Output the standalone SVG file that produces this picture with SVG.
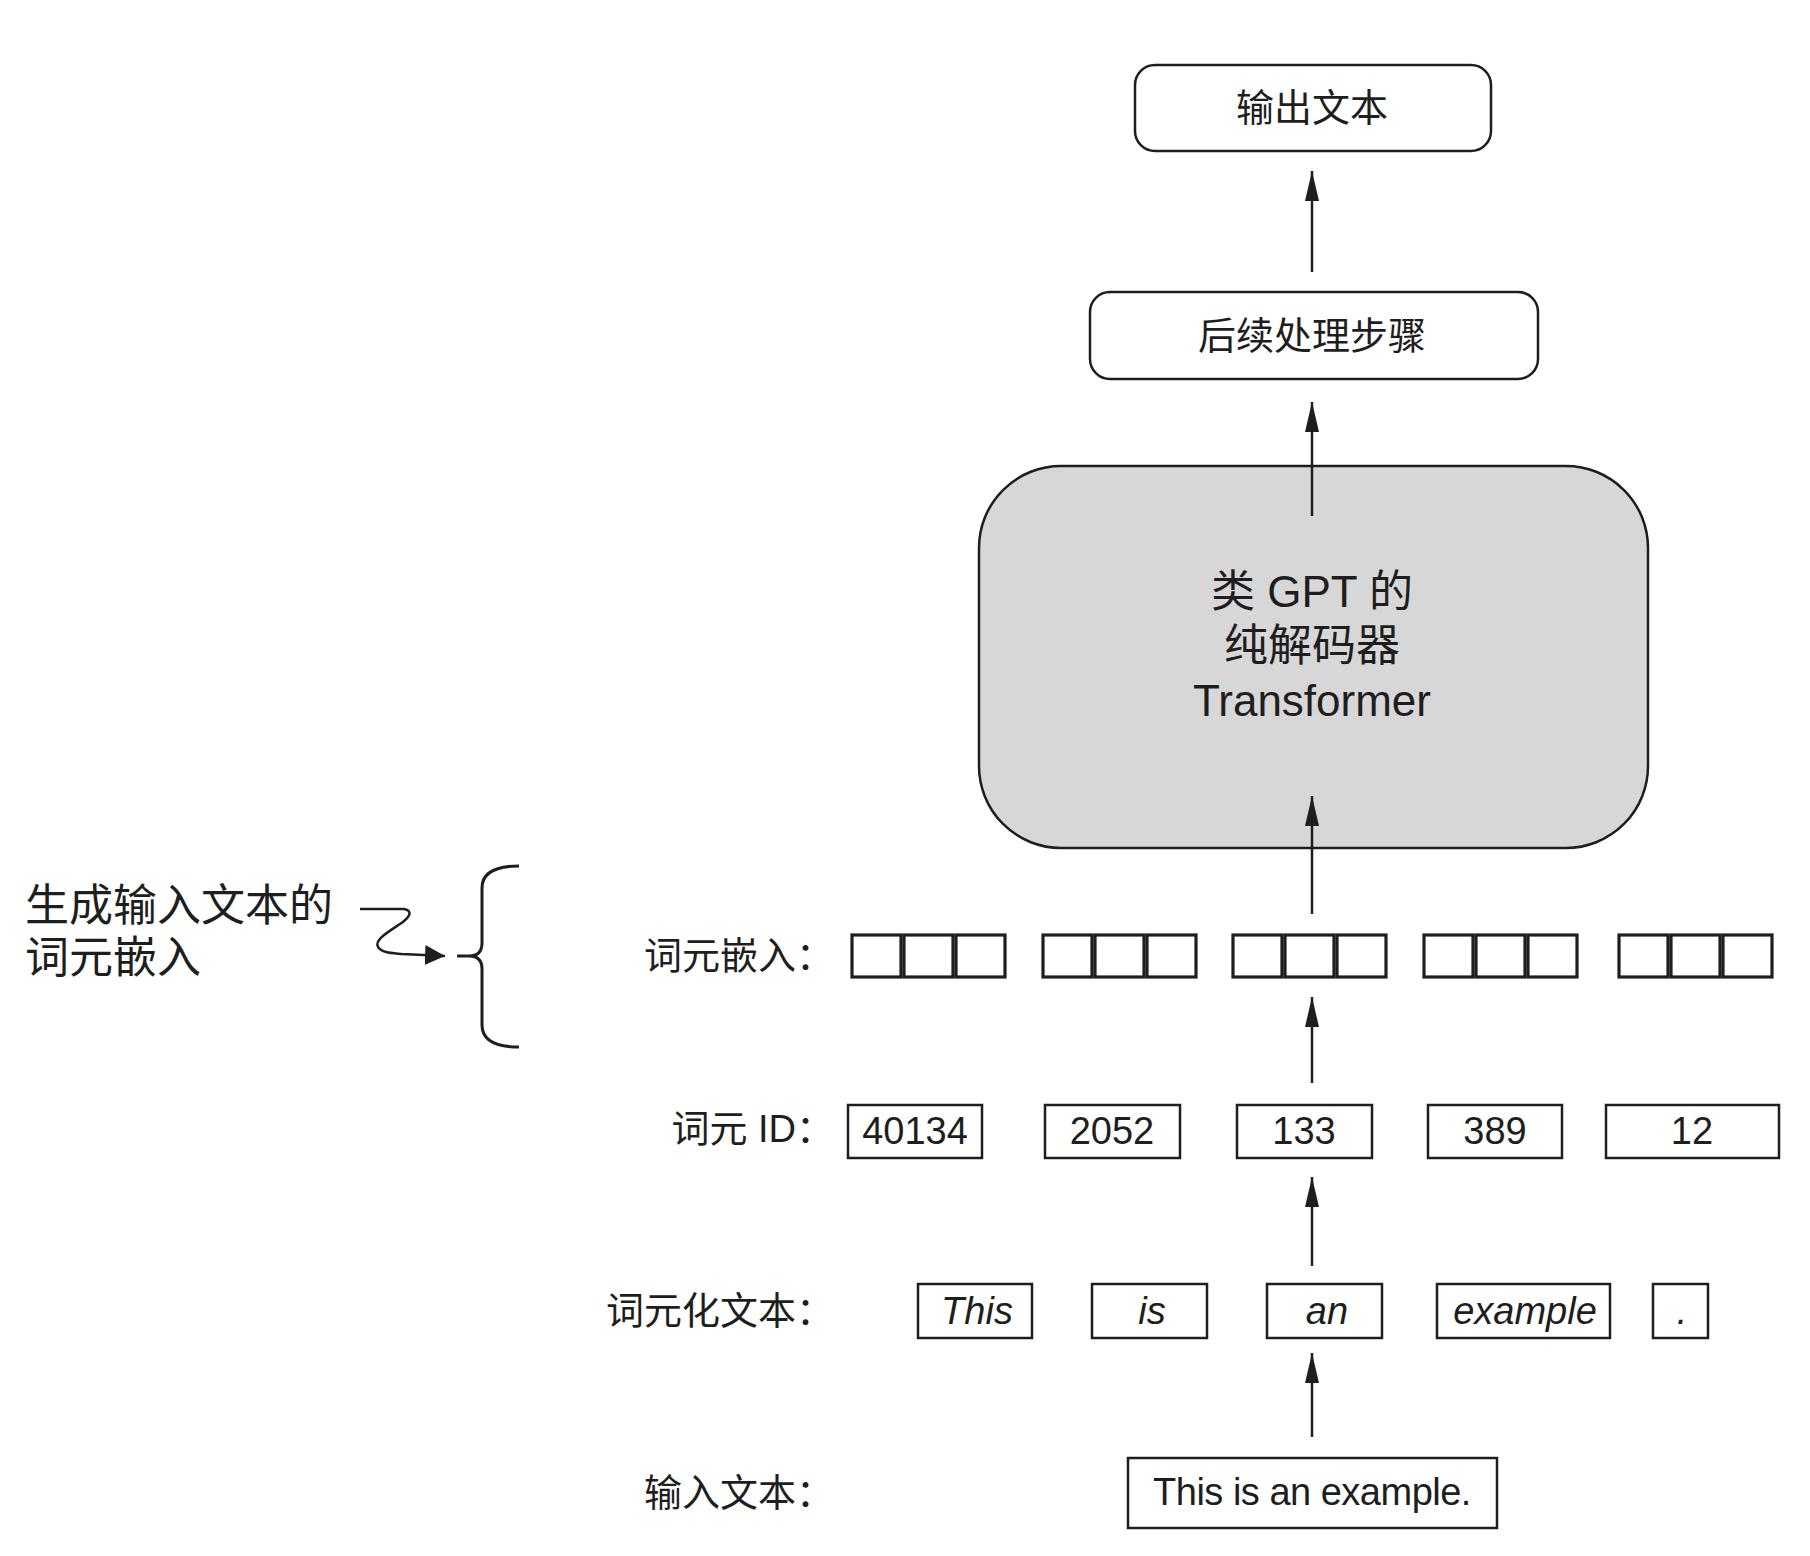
<svg xmlns="http://www.w3.org/2000/svg" width="1810" height="1556" viewBox="0 0 1810 1556">
<style>
text{font-family:"Liberation Sans","Noto Sans CJK SC",sans-serif;fill:#1e1e1e;}
.box{fill:#fff;stroke:#1e1e1e;stroke-width:2.5;}
.rbox{fill:#fff;stroke:#1e1e1e;stroke-width:2.5;}
.tf{fill:#d7d7d7;stroke:#1e1e1e;stroke-width:2.5;}
.sq{fill:#fff;stroke:#1e1e1e;stroke-width:3.2;}
.lbl{font-size:38px;text-anchor:end;}
.num{font-size:38px;text-anchor:middle;}
.tok{font-size:38px;text-anchor:middle;font-style:italic;}
.conn{stroke:#1e1e1e;stroke-width:2.5;fill:none;}
.brace{stroke:#1e1e1e;stroke-width:3;fill:none;}
</style>
<defs>
<marker id="ah" markerUnits="userSpaceOnUse" markerWidth="32" markerHeight="16" refX="30" refY="7" orient="auto">
<path d="M0,0 L30,7 L0,14 z" fill="#1e1e1e"/>
</marker>
<marker id="ah2" markerUnits="userSpaceOnUse" markerWidth="22" markerHeight="22" refX="20" refY="10" orient="auto">
<path d="M0,0 L20,10 L0,20 z" fill="#1e1e1e"/>
</marker>
</defs>
<rect width="1810" height="1556" fill="#fff"/>

<g id="output">
<rect class="rbox" x="1135" y="65" width="356" height="86" rx="20"/>
<text x="1312" y="121" font-size="38" text-anchor="middle">输出文本</text>
</g>

<g id="postproc">
<rect class="rbox" x="1090" y="292" width="448" height="87" rx="20"/>
<text x="1312" y="349" font-size="38" text-anchor="middle">后续处理步骤</text>
</g>

<g id="transformer">
<rect class="tf" x="979" y="466" width="669" height="382" rx="82"/>
<text x="1312" y="607" font-size="44" text-anchor="middle">类 GPT 的</text>
<text x="1312" y="661" font-size="44" text-anchor="middle">纯解码器</text>
<text x="1312" y="716" font-size="44" text-anchor="middle">Transformer</text>
</g>

<g id="embeddings">
<text class="lbl" x="834" y="969">词元嵌入：</text>
<rect class="sq" x="852" y="935" width="49" height="42"/><rect class="sq" x="904" y="935" width="49" height="42"/><rect class="sq" x="956" y="935" width="49" height="42"/>
<rect class="sq" x="1043" y="935" width="49" height="42"/><rect class="sq" x="1095" y="935" width="49" height="42"/><rect class="sq" x="1147" y="935" width="49" height="42"/>
<rect class="sq" x="1233" y="935" width="49" height="42"/><rect class="sq" x="1285" y="935" width="49" height="42"/><rect class="sq" x="1337" y="935" width="49" height="42"/>
<rect class="sq" x="1424" y="935" width="49" height="42"/><rect class="sq" x="1476" y="935" width="49" height="42"/><rect class="sq" x="1528" y="935" width="49" height="42"/>
<rect class="sq" x="1619" y="935" width="49" height="42"/><rect class="sq" x="1671" y="935" width="49" height="42"/><rect class="sq" x="1723" y="935" width="49" height="42"/>
</g>

<g id="tokenids">
<text class="lbl" x="834" y="1142">词元 ID：</text>
<rect class="box" x="848" y="1105" width="134" height="53"/><text class="num" x="915" y="1144">40134</text>
<rect class="box" x="1045" y="1105" width="135" height="53"/><text class="num" x="1112" y="1144">2052</text>
<rect class="box" x="1237" y="1105" width="135" height="53"/><text class="num" x="1304" y="1144">133</text>
<rect class="box" x="1428" y="1105" width="134" height="53"/><text class="num" x="1495" y="1144">389</text>
<rect class="box" x="1606" y="1105" width="173" height="53"/><text class="num" x="1692" y="1144">12</text>
</g>

<g id="tokenized">
<text class="lbl" x="834" y="1324">词元化文本：</text>
<rect class="box" x="918" y="1284" width="114" height="54"/><text class="tok" x="977" y="1324">This</text>
<rect class="box" x="1092" y="1284" width="115" height="54"/><text class="tok" x="1152" y="1324">is</text>
<rect class="box" x="1267" y="1284" width="115" height="54"/><text class="tok" x="1327" y="1324">an</text>
<rect class="box" x="1437" y="1284" width="173" height="54"/><text class="tok" x="1525" y="1324">example</text>
<rect class="box" x="1653" y="1284" width="55" height="54"/><text class="tok" x="1682" y="1324">.</text>
</g>

<g id="input">
<text class="lbl" x="834" y="1506">输入文本：</text>
<rect class="box" x="1128" y="1458" width="369" height="70"/>
<text x="1312" y="1505" font-size="38" text-anchor="middle" letter-spacing="-0.5">This is an example.</text>
</g>

<g id="annotation">
<text x="25" y="921" font-size="44">生成输入文本的</text>
<text x="25" y="973" font-size="44">词元嵌入</text>
<path class="brace" d="M519,866 Q482,866 482,888 L482,943 Q482,956 469,956 L457,956 L469,956 Q482,956 482,969 L482,1025 Q482,1047 519,1047"/>
</g>

<g id="connectors">
<line class="conn" x1="1312" y1="272" x2="1312" y2="171" marker-end="url(#ah)"/>
<line class="conn" x1="1312" y1="516" x2="1312" y2="402" marker-end="url(#ah)"/>
<line class="conn" x1="1312" y1="914" x2="1312" y2="796" marker-end="url(#ah)"/>
<line class="conn" x1="1312" y1="1083" x2="1312" y2="997" marker-end="url(#ah)"/>
<line class="conn" x1="1312" y1="1266" x2="1312" y2="1177" marker-end="url(#ah)"/>
<line class="conn" x1="1312" y1="1437" x2="1312" y2="1353" marker-end="url(#ah)"/>
<path class="conn" d="M360,909 L404,909 C414,911 409,918 400,924 C388,932 374,940 378,947 C382,953 392,953 402,954 L445,956" marker-end="url(#ah2)"/>
</g>
</svg>
